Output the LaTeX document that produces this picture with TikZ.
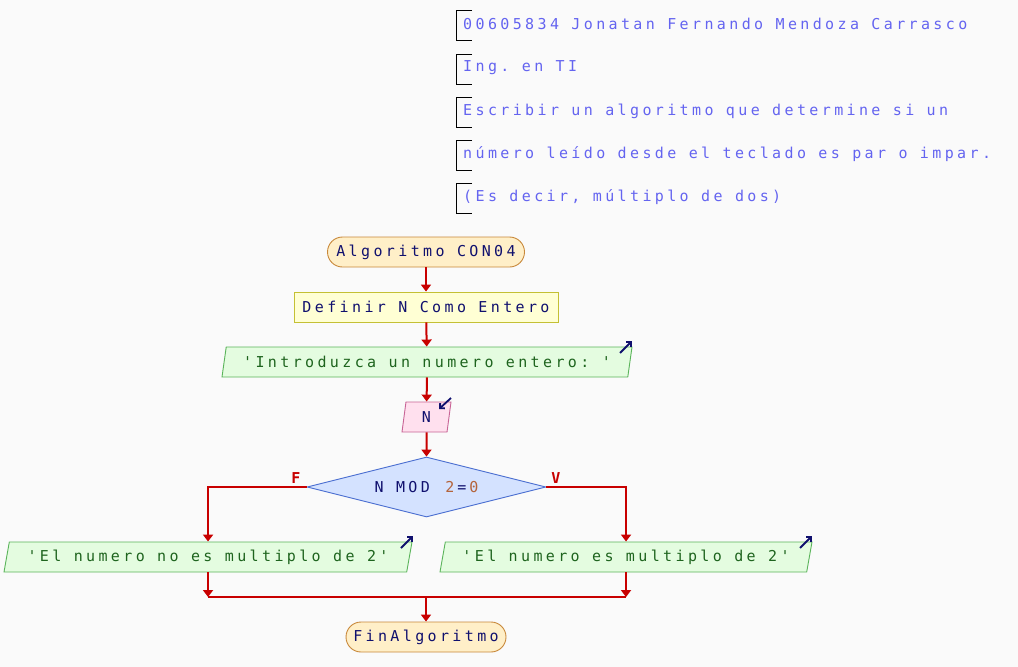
\documentclass[tikz,border=0pt]{standalone}
\usepackage{fontspec}
\setmonofont{DejaVu Sans Mono}[LetterSpace=22.5]
\usetikzlibrary{shapes.geometric,arrows.meta}

\definecolor{bgc}{HTML}{FAFAFA}
\definecolor{hdrtext}{HTML}{6464F0}
\definecolor{navy}{HTML}{10106E}
\definecolor{flowred}{HTML}{C80000}
\definecolor{termfill}{HTML}{FFEFC8}
\definecolor{termline}{HTML}{C8883A}
\definecolor{procfill}{HTML}{FFFFD4}
\definecolor{procline}{HTML}{C4C034}
\definecolor{outfill}{HTML}{E4FCE0}
\definecolor{outline}{HTML}{5AB45A}
\definecolor{outtext}{HTML}{1E641E}
\definecolor{infill}{HTML}{FFE0EE}
\definecolor{inline}{HTML}{C86496}
\definecolor{decfill}{HTML}{D4E2FF}
\definecolor{decline}{HTML}{4A6ED0}
\definecolor{numc}{HTML}{B4643C}

% gap between letters, restored where a colour change splits a word
\newcommand{\lsgap}{\kern3pt}

\tikzset{
  every node/.style={font=\ttfamily\fontsize{15}{17}\selectfont},
  hdr/.style={anchor=west, inner sep=0pt, text=hdrtext},
  hdrmark/.style={draw=black, line width=0.9pt},
  terminal/.style={rectangle, rounded corners=15pt, draw=termline, fill=termfill,
    line width=0.9pt, minimum height=30pt, inner sep=0pt, text=navy},
  process/.style={rectangle, draw=procline, fill=procfill, line width=0.9pt,
    minimum height=30pt, inner sep=0pt, text=navy},
  para/.style={trapezium, trapezium left angle=70, trapezium right angle=110,
    trapezium stretches body, line width=0.9pt, minimum height=30pt, inner sep=0pt},
  outbox/.style={para, draw=outline, fill=outfill, text=outtext},
  inbox/.style={para, draw=inline, fill=infill, text=navy},
  decision/.style={diamond, aspect=4, draw=decline, fill=decfill, line width=0.9pt,
    minimum width=239pt, minimum height=60pt, inner sep=0pt, text=navy},
  flow/.style={draw=flowred, line width=2pt, -{Triangle[width=10pt,length=7pt]}},
  flowline/.style={draw=flowred, line width=2pt},
  io/.style={draw=navy, line width=1.8pt, -{Straight Barb[length=3.5pt,width=7pt]}},
  branch/.style={text=flowred, font=\ttfamily\bfseries\fontsize{15}{17}\selectfont, inner sep=0pt},
}

\begin{document}
\begin{tikzpicture}[x=1pt,y=-1pt]
  \fill[bgc] (0,0) rectangle (1018,667);
  \useasboundingbox (0,0) rectangle (1018,667);

  % comment lines at the top
  \foreach \y/\txt [count=\i] in {
      24/{00605834 Jonatan Fernando Mendoza Carrasco},
      68/{Ing. en TI},
      111/{Escribir un algoritmo que determine si un},
      154/{número leído desde el teclado es par o impar.},
      197/{(Es decir, múltiplo de dos)}} {
    \draw[hdrmark] (472,\y-14) -- (456,\y-14) -- (456,\y+16) -- (472,\y+16);
    \node[hdr] (c\i) at (463,\y) {\txt};
  }

  % flowchart
  \node[terminal, minimum width=197pt] (start) at (426,252) {Algoritmo CON04};
  \node[process, minimum width=264pt] (def) at (426,307) {Definir N Como Entero};
  \node[outbox, minimum width=410pt] (ask) at (427,362) {'Introduzca un numero entero: '};
  \node[inbox, minimum width=49pt] (read) at (426.5,417) {N};
  \node[decision] (dec) at (426.5,487)
    {N MOD\lsgap\ \textcolor{numc}{2}\lsgap=\lsgap\textcolor{numc}{0}};
  \node[outbox, minimum width=408pt] (no) at (208,557) {'El numero no es multiplo de 2'};
  \node[outbox, minimum width=372pt] (yes) at (626,557) {'El numero es multiplo de 2'};
  \node[terminal, minimum width=160pt] (fin) at (426,637) {FinAlgoritmo};

  \node[branch] (lblF) at (296,478) {F};
  \node[branch] (lblV) at (556,478) {V};

  % input/output markers
  \coordinate (askA) at (620,353);  \coordinate (askB) at (632,341);
  \coordinate (readA) at (451,398); \coordinate (readB) at (439,409);
  \coordinate (noA) at (401,548);   \coordinate (noB) at (413,536);
  \coordinate (yesA) at (800,548);  \coordinate (yesB) at (812,536);
  \draw[io] (askA) -- (askB);
  \draw[io] (readA) -- (readB);
  \draw[io] (noA) -- (noB);
  \draw[io] (yesA) -- (yesB);

  % connectors
  \coordinate (merge) at (426,597);
  \draw[flow] (start) -- (def);
  \draw[flow] (def) -- (ask);
  \draw[flow] (ask) -- (read);
  \draw[flow] (read) -- (dec);
  \draw[flow] (dec.west) -| (no.north);
  \draw[flow] (dec.east) -| (yes.north);
  \draw[flowline] (no.south |- merge) -- (yes.south |- merge);
  \draw[flow] (no.south) -- (no.south |- merge);
  \draw[flow] (yes.south) -- (yes.south |- merge);
  \draw[flow] (merge) -- (fin);
\end{tikzpicture}
\end{document}
